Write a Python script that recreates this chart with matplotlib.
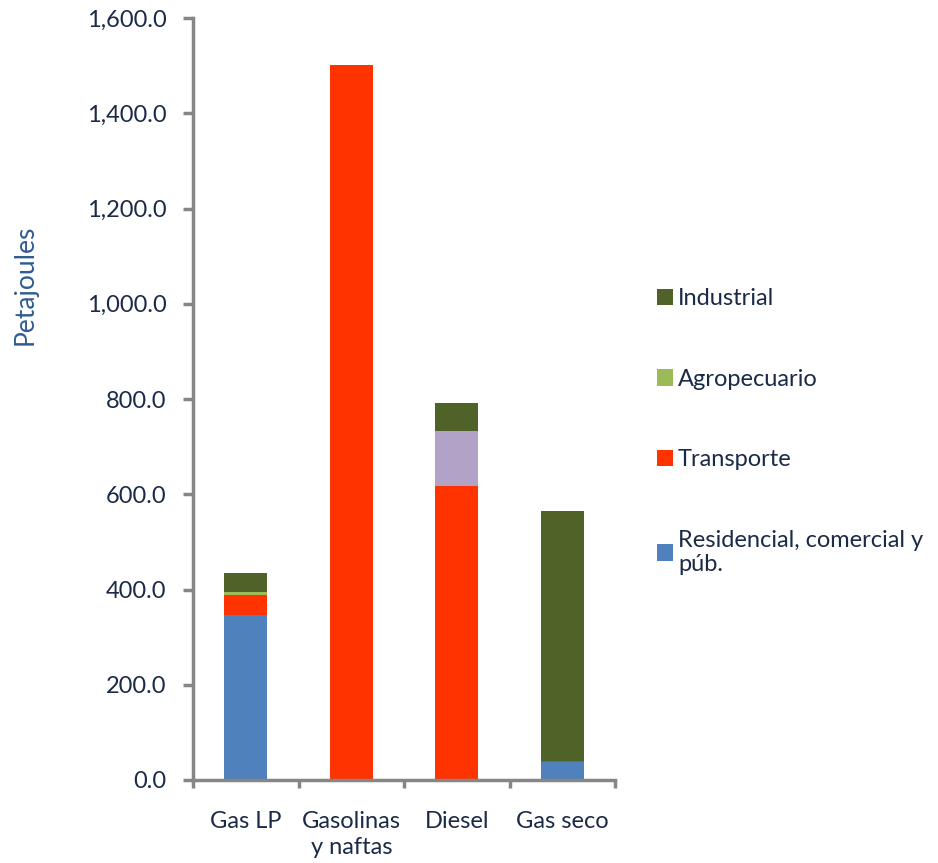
import matplotlib.pyplot as plt
import numpy as np
from matplotlib.ticker import FuncFormatter, FixedLocator

plt.rcParams['font.family'] = ['Lato', 'DejaVu Sans']

combustibles = ['Gas LP', 'Gasolinas\ny naftas', 'Diesel', 'Gas seco']

# Petajoules por sector
residencial = [347, 0, 2, 38]
transporte = [42, 1502, 616, 1]
otros = [0, 0, 115, 0]
agropecuario = [6, 0, 0, 0]
industrial = [40, 0, 59, 526]

sectores = [
    (residencial, '#4F81BD', 'Residencial, comercial y\npúb.'),
    (transporte, '#FF3300', 'Transporte'),
    (otros, '#B3A2C7', None),
    (agropecuario, '#9BBB59', 'Agropecuario'),
    (industrial, '#4F6228', 'Industrial'),
]

texto = '#1B2A47'
gris = '#868686'

fig = plt.figure(figsize=(9.38, 8.63), dpi=100)
ax = fig.add_axes([0.2058, 0.0962, 0.4499, 0.8828])

x = np.arange(len(combustibles))
base = np.zeros(len(combustibles))
handles = {}
for valores, color, nombre in sectores:
    b = ax.bar(x, valores, 0.41, bottom=base, color=color, linewidth=0)
    if nombre:
        handles[nombre] = b
    base += np.array(valores)

ax.set_ylim(0, 1600)
ax.set_xlim(-0.5, len(combustibles) - 0.5)
ax.set_yticks(np.arange(0, 1601, 200))
ax.yaxis.set_major_formatter(FuncFormatter(lambda v, p: f'{v:,.1f}'))

ax.set_xticks(x)
ax.set_xticklabels(combustibles, fontsize=17, color=texto, linespacing=1.35)
ax.xaxis.set_minor_locator(FixedLocator(np.arange(-0.5, len(combustibles), 1)))
ax.tick_params(axis='x', which='major', length=0, pad=22)
ax.tick_params(axis='x', which='minor', length=6, width=2.5, color=gris)
ax.tick_params(axis='y', length=7, width=2.5, color=gris, labelsize=17,
               labelcolor=texto, pad=12)

for s in ['top', 'right']:
    ax.spines[s].set_visible(False)
for s in ['left', 'bottom']:
    ax.spines[s].set_color(gris)
    ax.spines[s].set_linewidth(2.5)

fig.text(0.027, 0.67, 'Petajoules', rotation=90, fontsize=19,
         color='#2F5B93', ha='center', va='center')

orden = ['Industrial', 'Agropecuario', 'Transporte', 'Residencial, comercial y\npúb.']
fig.legend([handles[n] for n in orden], orden, loc='upper left',
           bbox_to_anchor=(0.69, 0.677), frameon=False, fontsize=17,
           labelcolor=texto, handlelength=0.7, handleheight=0.7,
           handletextpad=0.2, labelspacing=2.52, borderaxespad=0)

fig.savefig('out.png', dpi=100)
